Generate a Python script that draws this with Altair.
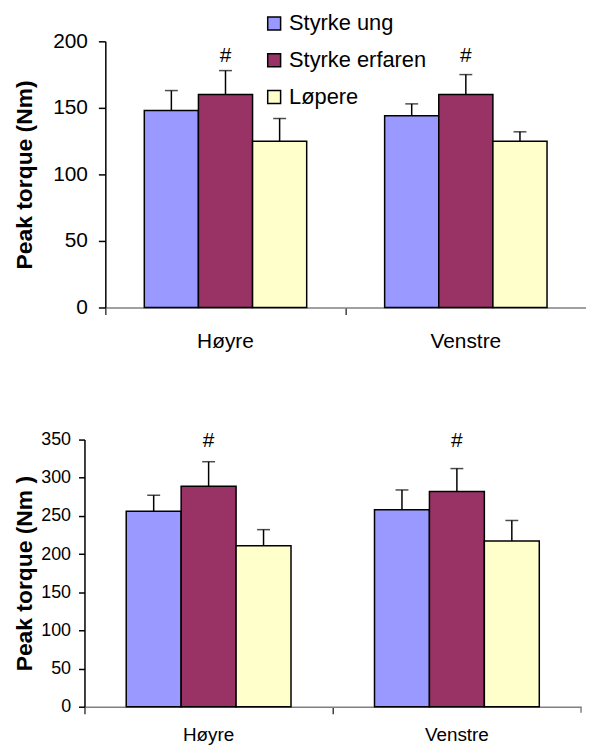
import altair as alt
import pandas as pd

groups = ["Styrke ung", "Styrke erfaren", "Løpere"]
sides = ["Høyre", "Venstre"]
colors = ["#9999FF", "#993366", "#FFFFCC"]

top_hoyre_mean = [148, 160, 125]
top_hoyre_sd = [15, 18, 17]
top_venstre_mean = [144, 160, 125]
top_venstre_sd = [9, 15, 7]

bot_hoyre_mean = [256, 289, 211]
bot_hoyre_sd = [21, 32, 21]
bot_venstre_mean = [258, 282, 217]
bot_venstre_sd = [26, 30, 27]

top_ticks = [0, 50, 100, 150, 200]
bot_ticks = [0, 50, 100, 150, 200, 250, 300, 350]
marked_group = "Styrke erfaren"
top_hash_level = 189
bot_hash_level = 348

FONT = "Liberation Sans, Arial, sans-serif"


def make_df(hm, hs, vm, vs, hash_level):
    rows = []
    for side, means, sds in [("Høyre", hm, hs), ("Venstre", vm, vs)]:
        for g, m, s in zip(groups, means, sds):
            rows.append({"side": side, "group": g, "mean": m, "upper": m + s,
                         "hash": "#" if g == marked_group else "",
                         "hashy": hash_level})
    return pd.DataFrame(rows)


def panel(df, ymax, yticks, ytitle, width, height, x_start, outer, tick_font, ytick_size,
          ylab_pad, xlab_font, xlab_pad, legend, end_tick):
    x = alt.X("side:N", sort=sides, title=None,
              scale=alt.Scale(paddingInner=0, paddingOuter=0, range=[x_start, width]),
              axis=alt.Axis(bandPosition=0, labelAngle=0, labelBaseline="alphabetic",
                            labelFont=FONT, labelFontSize=xlab_font, labelColor="black",
                            labelPadding=xlab_pad, domainColor="#808080", domainWidth=1.5,
                            tickColor="#404040", tickWidth=1.5, tickSize=7))
    xo = alt.XOffset("group:N", sort=groups,
                     scale=alt.Scale(paddingOuter=outer, paddingInner=0))
    yscale = alt.Scale(domain=[0, ymax], nice=False, zero=True)
    yaxis = alt.Axis(values=yticks, tickCount=len(yticks), grid=False, labelFont=FONT,
                     labelFontSize=tick_font, labelColor="black", labelPadding=ylab_pad,
                     tickSize=ytick_size, labelOverlap=False, offset=-x_start,
                     tickColor="black", tickWidth=1.5, domainColor="black",
                     domainWidth=1.5, titleFont=FONT, titleFontSize=23,
                     titleFontWeight="bold", titleColor="black",
                     titleAngle=270, titleBaseline="bottom", titleAlign="center",
                     titleX=-48 - x_start)

    def Y(field):
        return alt.Y(field, title=ytitle, scale=yscale, axis=yaxis)

    base = alt.Chart(df)
    bars = base.mark_bar(stroke="black", strokeWidth=1.5).encode(
        x=x, xOffset=xo, y=Y("mean:Q"),
        color=alt.Color("group:N", sort=groups,
                        scale=alt.Scale(domain=groups, range=colors), legend=legend))
    err = base.mark_rule(color="black", strokeWidth=1.5).encode(
        x=x, xOffset=xo, y=Y("mean:Q"), y2="upper:Q")
    cap = base.mark_tick(color="black", thickness=1.5, size=13, orient="horizontal").encode(
        x=x, xOffset=xo, y=Y("upper:Q"))
    hashes = base.transform_filter(alt.datum.hash != "").mark_text(
        font=FONT, fontSize=21, color="black", baseline="middle").encode(
        x=x, xOffset=xo, y=Y("hashy:Q"), text="hash:N")
    layers = [bars, err, cap, hashes]
    if end_tick:
        layers.append(alt.Chart(pd.DataFrame({"a": [0]})).mark_rule(
            color="#808080", strokeWidth=1.5).encode(
            x=alt.value(width), y=alt.value(height), y2=alt.value(height + 6)))
    return alt.layer(*layers).properties(width=width, height=height)


top_df = make_df(top_hoyre_mean, top_hoyre_sd, top_venstre_mean, top_venstre_sd, top_hash_level)
bot_df = make_df(bot_hoyre_mean, bot_hoyre_sd, bot_venstre_mean, bot_venstre_sd, bot_hash_level)

legend = alt.Legend(title=None, orient="none", legendX=180, legendY=-29,
                    symbolType="square", symbolSize=169, symbolStrokeColor="black",
                    symbolStrokeWidth=1.5, labelFont=FONT, labelFontSize=22,
                    labelColor="black", labelOffset=4, rowPadding=15, symbolOpacity=1)

top = panel(top_df, 200, top_ticks, "Peak torque (Nm)", 505, 268, 21, 0.72, 21, 7, 11,
            21, 33, legend, False)
bottom = panel(bot_df, 350, bot_ticks, "Peak torque (Nm )", 500, 269, 0, 0.76, 18, 6, 8,
               19, 27, None, True)

chart = alt.vconcat(top, bottom, spacing=79).properties(
    padding={"left": 5, "top": 2, "right": 0, "bottom": 0}
).resolve_scale(color="independent", x="independent", y="independent", xOffset="independent"
).configure_view(stroke=None)

chart.save("out.html", embed_options={"renderer": "svg", "actions": False})
